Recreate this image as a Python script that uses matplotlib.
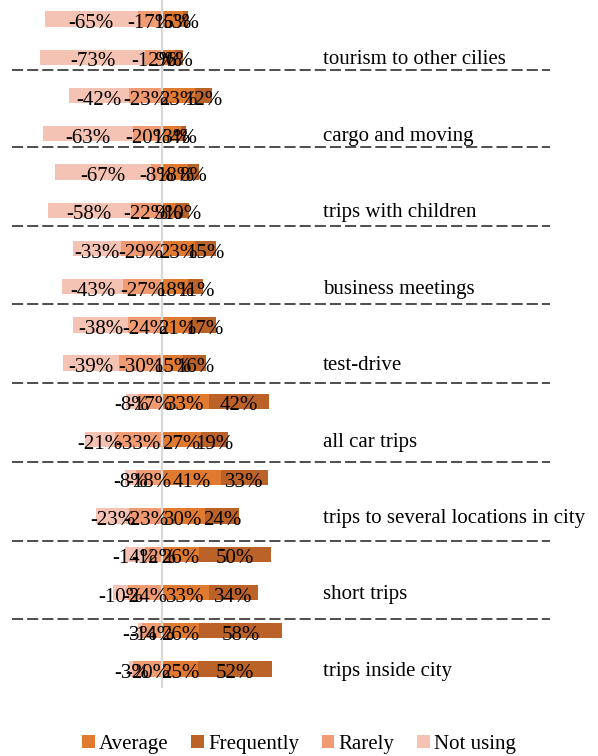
import matplotlib
matplotlib.use("Agg")
import matplotlib.pyplot as plt
import numpy as np

plt.rcParams['font.family'] = ['Liberation Serif', 'DejaVu Serif']

groups = ["tourism to other cilies", "cargo and moving", "trips with children",
          "business meetings", "test-drive", "all car trips",
          "trips to several locations in city", "short trips", "trips inside city"]

# 18 bars, top to bottom (two per group)
not_using  = [-65, -73, -42, -63, -67, -58, -33, -43, -38, -39, -8, -21, -8, -23, -14, -10, -3, -3]
rarely     = [-17, -12, -23, -20, -8, -22, -29, -27, -24, -30, -17, -33, -18, -23, -12, -24, -14, -20]
average    = [15, 9, 23, 13, 18, 9, 23, 18, 21, 15, 33, 27, 41, 30, 26, 33, 26, 25]
frequently = [3, 6, 12, 4, 8, 10, 15, 11, 17, 16, 42, 19, 33, 24, 50, 34, 58, 52]

c_avg = "#E07A30"
c_freq = "#BA6228"
c_rare = "#F09B72"
c_not = "#F4C3B3"

W, H = 598, 756
fig = plt.figure(figsize=(W / 100, H / 100), dpi=100)
ax_left, ax_right, ax_top, ax_bot = 12, 315, 0, 688
ax = fig.add_axes([ax_left / W, 1 - ax_bot / H, (ax_right - ax_left) / W, (ax_bot - ax_top) / H])

scale = 1.43  # px per percent
x0 = 162
ax.set_xlim((ax_left - x0) / scale, (ax_right - x0) / scale)
n = len(average)
y = np.arange(n)
ax.set_ylim(n - 0.5, -0.5)

h = 0.40
r = np.array(rarely)
nu = np.array(not_using)
a = np.array(average)
f = np.array(frequently)

b_rare = ax.barh(y, r, left=0, height=h, color=c_rare, zorder=2)
b_not = ax.barh(y, nu, left=r, height=h, color=c_not, zorder=2)
b_avg = ax.barh(y, a, left=0, height=h, color=c_avg, zorder=2)
b_freq = ax.barh(y, f, left=a, height=h, color=c_freq, zorder=2)

ax.axvline(0, color="#D9D9D9", lw=1.6, zorder=3)

fs = 15
for cont, vals in [(b_not, nu), (b_rare, r), (b_avg, a), (b_freq, f)]:
    txts = ax.bar_label(cont, labels=[f"{v}%" for v in vals], label_type="center",
                        fontsize=fs, color="black", zorder=4)
    for t in txts:
        t.set_va("center_baseline")
        t.set_y(-1.5)

# separators between groups (pixel rows of the dashed lines)
sep_px = [70, 147, 226, 304, 383, 462, 541, 619]
sep_y = [(p - 19.1) / 38.22 for p in sep_px]
x_a = (12 - x0) / scale
x_b = (550 - x0) / scale
lw = 1.3
ax.hlines(sep_y, x_a, x_b, colors="#404040", linewidth=lw,
          linestyles=(0, (8.0 / lw, 2.9 / lw)), clip_on=False, zorder=1)

ax.yaxis.tick_right()
ax.set_yticks(y[1::2])
ax.set_yticklabels(groups, fontsize=fs)
ax.tick_params(axis="y", length=0, pad=5.8)
ax.set_xticks([])
for s in ax.spines.values():
    s.set_visible(False)

handles = [b_avg, b_freq, b_rare, b_not]
labels = ["Average", "Frequently", "Rarely", "Not using"]
fig.legend(handles, labels, loc="center", bbox_to_anchor=(0.5, 1 - 744 / H),
           ncol=4, frameon=False, fontsize=fs, handlelength=0.6, handleheight=0.6,
           handletextpad=0.2, columnspacing=1.1, borderaxespad=0)

fig.savefig("out.png", dpi=100)
